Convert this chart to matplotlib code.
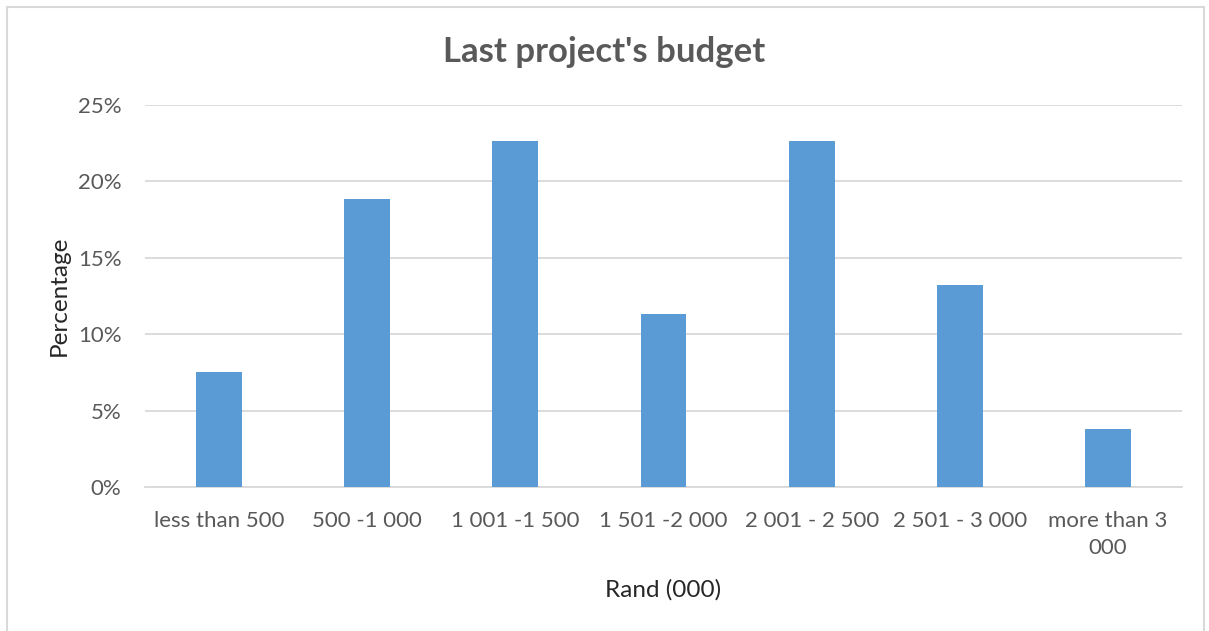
import numpy as np
import matplotlib.pyplot as plt
from matplotlib.patches import Rectangle
from matplotlib.ticker import PercentFormatter

plt.rcParams['font.family'] = ['Lato', 'DejaVu Sans']

# Share of respondents per budget band
categories = ['less than 500', '500 -1 000', '1 001 -1 500', '1 501 -2 000',
              '2 001 - 2 500', '2 501 - 3 000', 'more than 3\n000']
shares = [0.0755, 0.1887, 0.2264, 0.1132, 0.2264, 0.1321, 0.0377]

grey = '#595959'
grid = '#d9d9d9'

fig = plt.figure(figsize=(12.09, 6.31), dpi=100)
ax = fig.add_axes([0.1199, 0.2282, 0.8578, 0.6054])

x = np.arange(len(categories))
ax.bar(x, shares, width=0.31, color='#5b9bd5', zorder=3)

ax.set_xlim(-0.5, len(categories) - 0.5)
ax.set_ylim(0, 0.25)
ax.set_yticks(np.arange(0, 0.2501, 0.05))
ax.yaxis.set_major_formatter(PercentFormatter(1.0, decimals=0))
ax.set_xticks(x)
ax.set_xticklabels(categories, fontsize=16, color=grey, linespacing=1.45)
ax.tick_params(axis='y', labelsize=16, labelcolor=grey, length=0, pad=17)
ax.tick_params(axis='x', length=0, pad=17)

ax.grid(axis='y', color=grid, linewidth=1.3, zorder=0)
for side in ['top', 'right', 'left']:
    ax.spines[side].set_visible(False)
ax.spines['bottom'].set_color(grid)
ax.spines['bottom'].set_linewidth(1.3)

fig.suptitle("Last project's budget", x=0.5, y=1 - 52 / 631, va='center',
             fontsize=25, fontweight='bold', color=grey)
ax.set_xlabel('Rand (000)', fontsize=17.5, color='#262626', labelpad=15)
ax.set_ylabel('Percentage', fontsize=17.5, color='#262626', labelpad=6)

# thin frame round the whole chart
fig.patches.append(Rectangle((7 / 1209, -0.01), 1197 / 1209, 1 - 7 / 631 + 0.01,
                             transform=fig.transFigure, fill=False,
                             edgecolor=grid, linewidth=1.5))

fig.savefig('out.png', dpi=100)
